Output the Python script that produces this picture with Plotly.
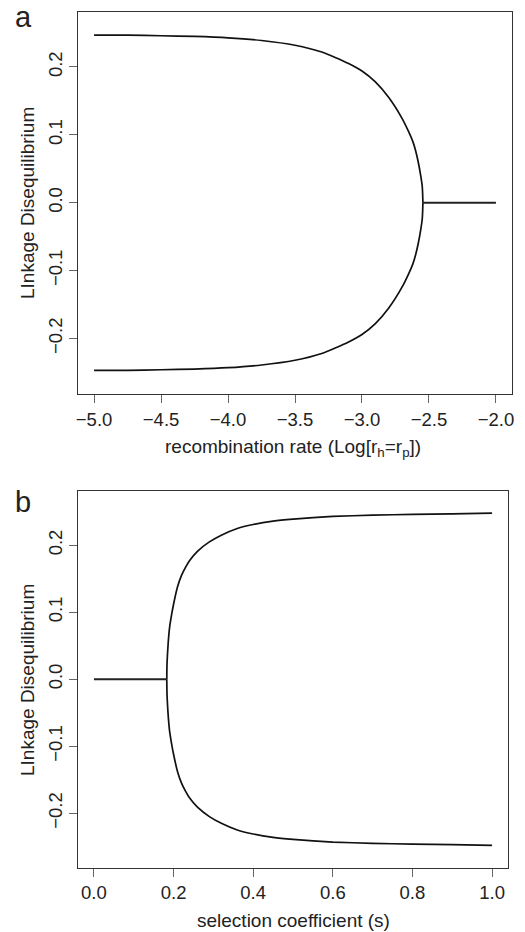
import plotly.graph_objects as go

# ---- data ----
# panel a: recombination rate (log10) vs linkage disequilibrium
a_x_upper = [-5.0, -4.75, -4.5, -4.25, -4.0, -3.75, -3.5, -3.3, -3.2, -3.1, -3.0, -2.9,
             -2.8, -2.7, -2.65, -2.62, -2.6, -2.58, -2.56, -2.55, -2.547, -2.545]
a_ld_upper = [0.247, 0.247, 0.246, 0.245, 0.243, 0.239, 0.232, 0.222, 0.214, 0.205, 0.194, 0.178,
              0.155, 0.124, 0.104, 0.090, 0.077, 0.060, 0.038, 0.024, 0.013, 0.0]
a_x_lower = list(a_x_upper)
a_ld_lower = [-0.247, -0.247, -0.246, -0.245, -0.243, -0.239, -0.232, -0.222, -0.214, -0.205, -0.194, -0.178,
              -0.155, -0.124, -0.104, -0.090, -0.077, -0.060, -0.038, -0.024, -0.013, 0.0]
a_x_zero = [-2.545, -2.0]
a_ld_zero = [0.0, 0.0]

# panel b: selection coefficient vs linkage disequilibrium
b_s_upper = [0.183, 0.1835, 0.185, 0.187, 0.19, 0.195, 0.20, 0.21, 0.22, 0.23, 0.24, 0.26,
             0.29, 0.32, 0.36, 0.40, 0.45, 0.50, 0.60, 0.70, 0.80, 0.90, 1.0]
b_ld_upper = [0.0, 0.022, 0.040, 0.058, 0.077, 0.096, 0.112, 0.138, 0.155, 0.167, 0.177, 0.191,
              0.205, 0.215, 0.225, 0.231, 0.236, 0.239, 0.243, 0.245, 0.246, 0.247, 0.248]
b_s_lower = list(b_s_upper)
b_ld_lower = [0.0, -0.022, -0.040, -0.058, -0.077, -0.096, -0.112, -0.138, -0.155, -0.167, -0.177, -0.191,
              -0.205, -0.215, -0.225, -0.231, -0.236, -0.239, -0.243, -0.245, -0.246, -0.247, -0.248]
b_s_zero = [0.0, 0.183]
b_ld_zero = [0.0, 0.0]

a_xticks = [-5.0, -4.5, -4.0, -3.5, -3.0, -2.5, -2.0]
b_xticks = [0.0, 0.2, 0.4, 0.6, 0.8, 1.0]
yticks = [-0.2, -0.1, 0.0, 0.1, 0.2]

W, H = 525, 932
FONT = "Liberation Sans, Arial, Helvetica, sans-serif"
TXT = "#222222"

fig = go.Figure()
line_curve = dict(color="#111111", width=1.7, shape="spline", smoothing=0.5)
line_zero = dict(color="#222222", width=2.2)

fig.add_trace(go.Scatter(x=a_x_upper, y=a_ld_upper, mode="lines", line=line_curve, xaxis="x", yaxis="y"))
fig.add_trace(go.Scatter(x=a_x_lower, y=a_ld_lower, mode="lines", line=line_curve, xaxis="x", yaxis="y"))
fig.add_trace(go.Scatter(x=a_x_zero, y=a_ld_zero, mode="lines", line=line_zero, xaxis="x", yaxis="y"))
fig.add_trace(go.Scatter(x=b_s_upper, y=b_ld_upper, mode="lines", line=line_curve, xaxis="x2", yaxis="y2"))
fig.add_trace(go.Scatter(x=b_s_lower, y=b_ld_lower, mode="lines", line=line_curve, xaxis="x2", yaxis="y2"))
fig.add_trace(go.Scatter(x=b_s_zero, y=b_ld_zero, mode="lines", line=line_zero, xaxis="x2", yaxis="y2"))


def px_x(p):
    return p / W


def px_y(p):
    return 1 - p / H


common_axis = dict(
    showline=True, linecolor="#333333", linewidth=1.2, mirror=True,
    ticks="outside", ticklen=8, tickwidth=1, tickcolor="#666666",
    showgrid=False, zeroline=False, automargin=False,
    tickfont=dict(family=FONT, size=18.5, color=TXT),
    tickformat=".1f",
)

# panel a box: x 78..512, y 12..393.5 ; panel b box: x 78..508, y 491..867.5
fig.update_layout(
    xaxis=dict(common_axis, domain=[px_x(78), px_x(512)], range=[-5.12, -1.88],
               tickvals=a_xticks, anchor="y", ticklabelstandoff=1),
    yaxis=dict(common_axis, domain=[px_y(393.5), px_y(12)], range=[-0.281, 0.281],
               tickvals=yticks, anchor="x", tickangle=-90, ticklabelstandoff=0),
    xaxis2=dict(common_axis, domain=[px_x(78), px_x(508)], range=[-0.04, 1.04],
                tickvals=b_xticks, anchor="y2", ticklabelstandoff=0),
    yaxis2=dict(common_axis, domain=[px_y(867.5), px_y(491)], range=[-0.281, 0.281],
                tickvals=yticks, anchor="x2", tickangle=-90, ticklabelstandoff=0),
    width=W, height=H,
    margin=dict(l=0, r=0, t=0, b=0),
    paper_bgcolor="white", plot_bgcolor="white",
    showlegend=False,
    font=dict(family=FONT, color=TXT),
)

ann_font = dict(family=FONT, size=19, color=TXT)
annotations = [
    dict(text="a", x=px_x(23), y=px_y(17), xref="paper", yref="paper",
         xanchor="center", yanchor="middle", showarrow=False,
         font=dict(family=FONT, size=29, color=TXT)),
    dict(text="b", x=px_x(23), y=px_y(502), xref="paper", yref="paper",
         xanchor="center", yanchor="middle", showarrow=False,
         font=dict(family=FONT, size=29, color=TXT)),
    dict(text="recombination rate (Log[r<sub>h</sub>=r<sub>p</sub>])", x=px_x(293), y=px_y(448),
         xref="paper", yref="paper", xanchor="center", yanchor="middle", showarrow=False, font=ann_font),
    dict(text="selection coefficient (s)", x=px_x(293), y=px_y(920),
         xref="paper", yref="paper", xanchor="center", yanchor="middle", showarrow=False, font=ann_font),
    dict(text="LInkage Disequilibrium", x=px_x(27), y=px_y(203), textangle=-90,
         xref="paper", yref="paper", xanchor="center", yanchor="middle", showarrow=False, font=ann_font),
    dict(text="LInkage Disequilibrium", x=px_x(27), y=px_y(680), textangle=-90,
         xref="paper", yref="paper", xanchor="center", yanchor="middle", showarrow=False, font=ann_font),
]
fig.update_layout(annotations=annotations)

fig.write_html(
    "out.html",
    config={"displayModeBar": False},
    post_script="document.body.style.margin='0';document.body.style.padding='0';",
)
